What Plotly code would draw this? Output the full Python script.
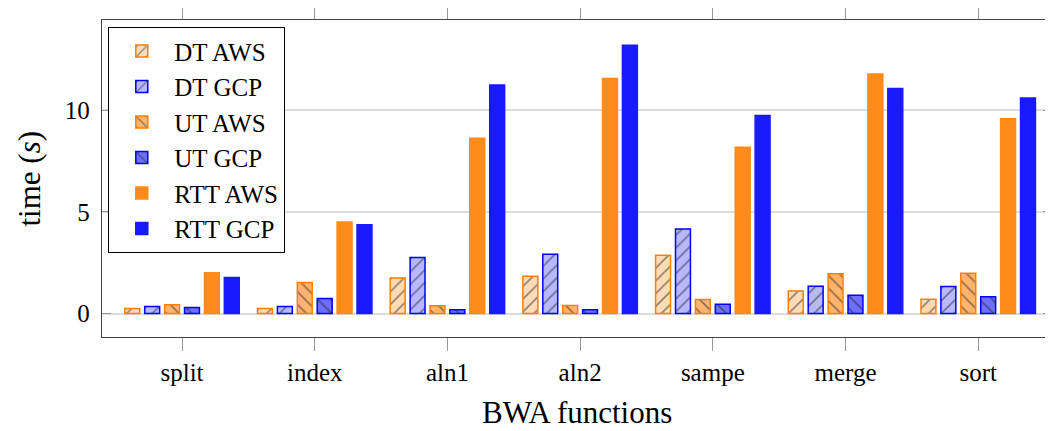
import plotly.graph_objects as go

categories = ["split", "index", "aln1", "aln2", "sampe", "merge", "sort"]

dt_aws = [0.25, 0.25, 1.75, 1.83, 2.86, 1.11, 0.70]
dt_gcp = [0.35, 0.35, 2.76, 2.91, 4.16, 1.34, 1.33]
ut_aws = [0.43, 1.53, 0.38, 0.39, 0.69, 1.95, 1.98]
ut_gcp = [0.30, 0.74, 0.18, 0.18, 0.46, 0.90, 0.83]
rtt_aws = [2.00, 4.50, 8.62, 11.55, 8.18, 11.77, 9.57]
rtt_gcp = [1.77, 4.36, 11.24, 13.19, 9.74, 11.06, 10.60]

series = [
    ("DT AWS", dt_aws, "rgb(255,219,184)", "rgb(255,128,0)", "/"),
    ("DT GCP", dt_gcp, "rgb(184,184,255)", "rgb(0,0,255)", "/"),
    ("UT AWS", ut_aws, "rgb(255,181,110)", "rgb(255,128,0)", "\\"),
    ("UT GCP", ut_gcp, "rgb(110,110,255)", "rgb(0,0,255)", "\\"),
    ("RTT AWS", rtt_aws, "rgb(255,140,26)", "rgb(255,140,26)", ""),
    ("RTT GCP", rtt_gcp, "rgb(26,26,255)", "rgb(26,26,255)", ""),
]

FONT = "Liberation Serif"
# page body has an 8px margin, so figure coordinates are page coordinates - 8
OFF = 8
W, H = 1053 - OFF, 431 - OFF
PLOT_L, PLOT_R, PLOT_T, PLOT_B = 102 - OFF, 1052 - OFF, 20 - OFF, 337.5 - OFF
PW, PH = PLOT_R - PLOT_L, PLOT_B - PLOT_T

fig = go.Figure()
for i, (name, vals, fill, edge, shape) in enumerate(series):
    marker = dict(color=fill, line=dict(color=edge, width=1.5))
    if shape:
        marker["pattern"] = dict(shape=shape, fgcolor="#222222", fillmode="overlay",
                                 size=9, solidity=0.18)
    fig.add_trace(go.Bar(x=categories, y=vals, name=name, marker=marker))

fig.update_layout(
    width=W, height=H,
    margin=dict(l=PLOT_L, r=W - PLOT_R, t=PLOT_T, b=H - PLOT_B, autoexpand=False),
    paper_bgcolor="white", plot_bgcolor="white",
    barmode="group", bargap=0.1, bargroupgap=0.25,
    font=dict(family=FONT, size=25, color="black"),
    legend=dict(x=6 / PW, y=1 - 7 / PH, xanchor="left", yanchor="top",
                bgcolor="white", bordercolor="black", borderwidth=1.3,
                font=dict(family=FONT, size=25), itemwidth=55),
    showlegend=True,
    annotations=[
        dict(text="BWA functions", xref="paper", yref="paper",
             x=0.5, y=-(413 - OFF - PLOT_B) / PH, xanchor="center", yanchor="middle",
             showarrow=False, font=dict(family=FONT, size=31, color="black")),
        dict(text="time (<i>s</i>)", xref="paper", yref="paper",
             x=-(PLOT_L - (29 - OFF)) / PW, y=0.5, xanchor="center", yanchor="middle",
             textangle=-90, showarrow=False,
             font=dict(family=FONT, size=31, color="black")),
    ],
)

fig.update_xaxes(
    range=[-0.603, 6.556], showgrid=False, automargin=False,
    showline=True, linecolor="#444444", linewidth=1.3, mirror="ticks",
    ticks="outside", ticklen=13, tickcolor="#999999", tickwidth=1,
    tickfont=dict(family=FONT, size=25),
)
fig.update_yaxes(
    range=[-1.154, 14.43], tickvals=[0, 5, 10], ticktext=["0", "5", "10"],
    showgrid=True, gridcolor="#dddddd", gridwidth=1.5, automargin=False,
    zeroline=True, zerolinecolor="#dddddd", zerolinewidth=1.5,
    showline=True, linecolor="#444444", linewidth=1.3, mirror="ticks",
    ticks="inside", ticklen=9, tickcolor="#999999", tickwidth=1,
    tickfont=dict(family=FONT, size=25), ticklabelstandoff=6,
)

fig.write_html("out.html")
